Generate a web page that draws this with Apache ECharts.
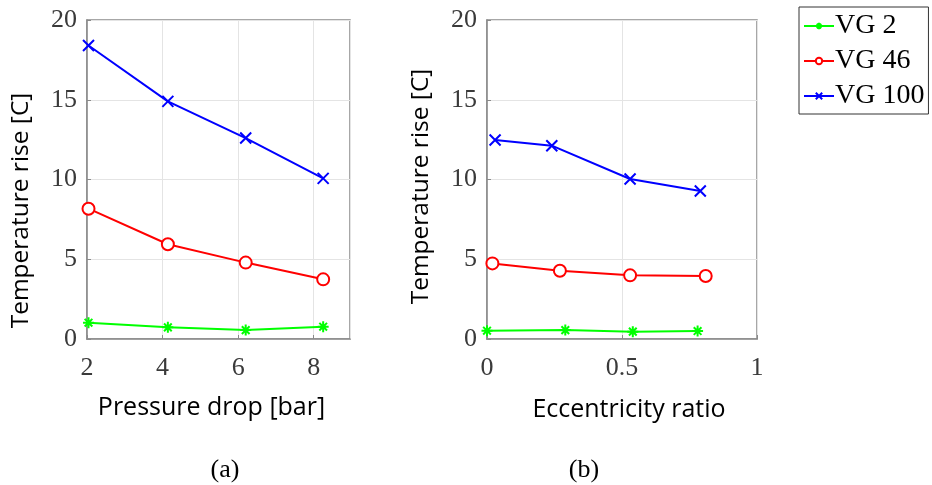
<!DOCTYPE html>
<html>
<head>
<meta charset="utf-8">
<script src="https://cdn.jsdelivr.net/npm/echarts@6/dist/echarts.min.js"></script>
<style>
  html, body { margin: 0; padding: 0; background: #fff; }
  #chart { width: 932px; height: 485px; }
</style>
</head>
<body>
<div id="chart"></div>
<script>
// (a) temperature rise vs pressure drop
const pressureDrop = [2.04, 4.14, 6.2, 8.25];
const riseA_vg2 = [1.02, 0.73, 0.56, 0.77];
const riseA_vg46 = [8.17, 5.94, 4.79, 3.74];
const riseA_vg100 = [18.4, 14.9, 12.6, 10.07];

// (b) temperature rise vs eccentricity ratio
const eccB_vg2 = [0.0, 0.29, 0.54, 0.78];
const riseB_vg2 = [0.52, 0.56, 0.46, 0.5];
const eccB_vg46 = [0.02, 0.27, 0.53, 0.81];
const riseB_vg46 = [4.74, 4.28, 3.99, 3.95];
const eccB_vg100 = [0.03, 0.24, 0.53, 0.79];
const riseB_vg100 = [12.48, 12.12, 10.03, 9.28];

const seriesNames = ['VG 2', 'VG 46', 'VG 100'];
const seriesColors = ['#00ff00', '#ff0000', '#0000ff'];

const starPath = 'path://M5,0L5,10M0,5L10,5M1.5,1.5L8.5,8.5M8.5,1.5L1.5,8.5';
const crossPath = 'path://M0,0L10,10M10,0L0,10';
const symbols = [starPath, 'emptyCircle', crossPath];
const symbolSizes = [11, 12, 11];

const zip = (xs, ys) => xs.map((x, i) => [x, ys[i]]);

const chart = echarts.init(document.getElementById('chart'));

const serif = '"Liberation Serif", "Times New Roman", serif';
const sans = '"Open Sans", "Liberation Sans", sans-serif';

function makeSeries(idx, gridIdx, data) {
    return {
        name: seriesNames[idx],
        type: 'line',
        xAxisIndex: gridIdx,
        yAxisIndex: gridIdx,
        data: data,
        symbol: symbols[idx],
        symbolSize: symbolSizes[idx],
        showSymbol: true,
        lineStyle: { color: seriesColors[idx], width: 2 },
        itemStyle: {
            color: seriesColors[idx],
            borderColor: seriesColors[idx],
            borderWidth: 2
        },
        emphasis: { disabled: true },
        animation: false
    };
}

const axisLabelStyle = { fontFamily: serif, fontSize: 26, color: '#3a3a3a' };
const splitLine = { show: true, lineStyle: { color: '#e4e4e4', width: 1 } };
const axisLine = { show: true, lineStyle: { color: '#8a8a8a', width: 1.5 } };
const axisTick = { show: true, inside: true, length: 4, lineStyle: { color: '#8a8a8a' } };

function yAxis(gridIdx, pad) {
    return {
        type: 'value', gridIndex: gridIdx,
        min: 0, max: 20, interval: 5,
        name: 'Temperature rise [C]',
        nameLocation: 'middle',
        nameGap: 53,
        nameTextStyle: { fontFamily: sans, fontSize: 24.5, color: '#000', padding: pad },
        axisLabel: Object.assign({ margin: 10 }, axisLabelStyle),
        axisLine: axisLine, axisTick: axisTick, splitLine: splitLine
    };
}

const option = {
    backgroundColor: '#fff',
    animation: false,
    title: [
        { text: '(a)', left: 220, top: 452, textAlign: 'center',
          textStyle: { fontFamily: serif, fontSize: 26, fontWeight: 'normal', color: '#000' } },
        { text: '(b)', left: 579, top: 452, textAlign: 'center',
          textStyle: { fontFamily: serif, fontSize: 26, fontWeight: 'normal', color: '#000' } }
    ],
    legend: {
        left: 799, top: 7,
        orient: 'vertical',
        data: seriesNames,
        itemWidth: 30, itemHeight: 8, itemGap: 5,
        padding: [4, 4, 3, 4],
        borderColor: '#333', borderWidth: 1,
        textStyle: { fontFamily: serif, fontSize: 28, lineHeight: 30, color: '#000', padding: [0, 0, 0, -4] },
        selectedMode: false
    },
    grid: [
        { left: 87, top: 20, width: 263, height: 319, show: true, borderColor: '#8a8a8a', borderWidth: 1.5 },
        { left: 487, top: 20, width: 270, height: 319, show: true, borderColor: '#8a8a8a', borderWidth: 1.5 }
    ],
    xAxis: [
        {
            type: 'value', gridIndex: 0,
            min: 2, max: 8.96, interval: 2,
            name: 'Pressure drop [bar]',
            nameLocation: 'middle', nameGap: 56,
            nameTextStyle: { fontFamily: sans, fontSize: 25, color: '#000', padding: [0, 14, 0, 0] },
            axisLabel: Object.assign({ margin: 16, showMaxLabel: false }, axisLabelStyle),
            axisLine: axisLine, axisTick: axisTick, splitLine: splitLine
        },
        {
            type: 'value', gridIndex: 1,
            min: 0, max: 1, interval: 0.5,
            name: 'Eccentricity ratio',
            nameLocation: 'middle', nameGap: 58,
            nameTextStyle: { fontFamily: sans, fontSize: 25, color: '#000', padding: [0, 0, 0, 14] },
            axisLabel: Object.assign({ margin: 16 }, axisLabelStyle),
            axisLine: axisLine, axisTick: axisTick, splitLine: splitLine
        }
    ],
    yAxis: [
        yAxis(0, [0, 62, 0, 0]),
        yAxis(1, [0, 14, 0, 0])
    ],
    series: [
        makeSeries(0, 0, zip(pressureDrop, riseA_vg2)),
        makeSeries(1, 0, zip(pressureDrop, riseA_vg46)),
        makeSeries(2, 0, zip(pressureDrop, riseA_vg100)),
        makeSeries(0, 1, zip(eccB_vg2, riseB_vg2)),
        makeSeries(1, 1, zip(eccB_vg46, riseB_vg46)),
        makeSeries(2, 1, zip(eccB_vg100, riseB_vg100))
    ]
};

chart.setOption(option);
</script>
</body>
</html>
